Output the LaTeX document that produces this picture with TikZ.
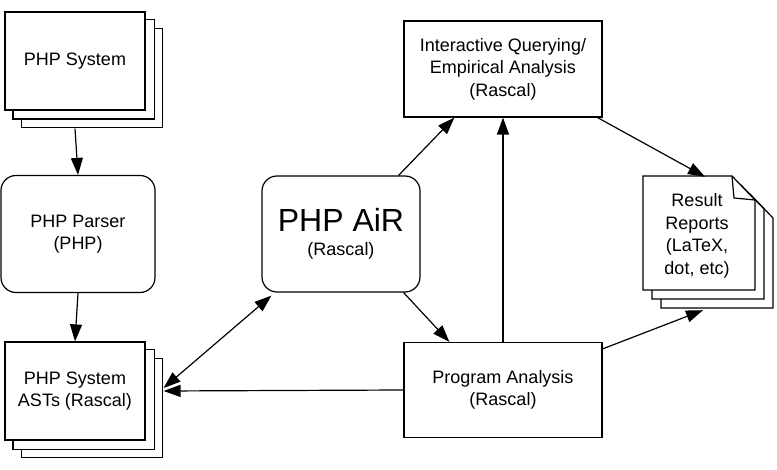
\documentclass[tikz,border=0pt]{standalone}
\usepackage{fontspec}
\setmainfont{Liberation Sans}
\usetikzlibrary{arrows.meta,backgrounds}

\tikzset{
  box/.style={draw,line width=1.2pt,fill=white,align=center,
    font=\fontsize{18}{22.5}\selectfont,inner sep=2pt},
  rbox/.style={box,rounded corners=15pt},
  sheet/.style={draw,line width=1.2pt,fill=white},
  flow/.style={line width=1.2pt,-{Triangle[length=17pt,width=12pt]}},
  twoway/.style={line width=1.2pt,{Triangle[length=17pt,width=12pt]}-{Triangle[length=17pt,width=12pt]}}
}

\begin{document}
\begin{tikzpicture}[x=1pt,y=-1pt]
\useasboundingbox (0,0) rectangle (777,470);

% Left column
\node[box,minimum width=140pt,minimum height=98pt] (sys) at (75,61) {PHP System};
\node[rbox,minimum width=154pt,minimum height=117pt] (parser) at (78,234) {PHP Parser\\(PHP)};
\node[box,minimum width=140pt,minimum height=98pt] (ast) at (75,391) {PHP System\\ASTs (Rascal)};

% Stacked copies behind the two PHP System boxes
\begin{scope}[on background layer]
  \foreach \n in {sys,ast} {
    \foreach \d in {17,8.5} {
      \draw[sheet] ([shift={(\d pt,-\d pt)}]\n.north west) rectangle ([shift={(\d pt,-\d pt)}]\n.south east);
    }
  }
\end{scope}

% Centre
\node[rbox,minimum width=158pt,minimum height=116pt] (air) at (341,234)
  {{\fontsize{32}{34}\selectfont PHP AiR}\\[2pt](Rascal)};

% Right column
\node[box,minimum width=198pt,minimum height=96pt] (iqa) at (503,69)
  {Interactive Querying/\\Empirical Analysis\\(Rascal)};
\node[box,minimum width=198pt,minimum height=95pt] (prog) at (503,390)
  {Program Analysis\\(Rascal)};

% Result reports (dog-eared stack)
\foreach \d in {18,9,0} {
  \draw[sheet,shift={(\d,\d)}]
    (643,176) -- (732,176) -- (755,200) -- (755,290) -- (643,290) -- cycle;
}
\draw[line width=1.2pt] (732,176) -- (734,198) -- (755,200);
\node[align=center,font=\fontsize{18}{22.5}\selectfont,
  minimum width=112pt,minimum height=114pt] (rep) at (697,236)
  {Result\\Reports\\(LaTeX,\\dot, etc)};

% Connectors
\draw[flow] ([yshift=-18pt]sys.south) -- (parser.north);
\draw[flow] (parser.south) -- (ast.north);
\draw[twoway] ([xshift=18pt,yshift=3pt]ast.east) -- ([xshift=10pt,yshift=-3pt]air.south west);
\draw[flow] (prog.west) -- ([xshift=18pt]ast.east);
\draw[flow] ([xshift=-22pt]air.north east) -- ([xshift=51pt]iqa.south west);
\draw[flow] ([xshift=-17pt]air.south east) -- ([xshift=46pt]prog.north west);
\draw[flow] (prog.north) -- (iqa.south);
\draw[flow] ([xshift=-5pt]iqa.south east) -- ([xshift=8pt,yshift=2pt]rep.north);
\draw[flow] ([yshift=-7pt]prog.north east) -- ([xshift=6pt,yshift=-17pt]rep.south);

\end{tikzpicture}
\end{document}
